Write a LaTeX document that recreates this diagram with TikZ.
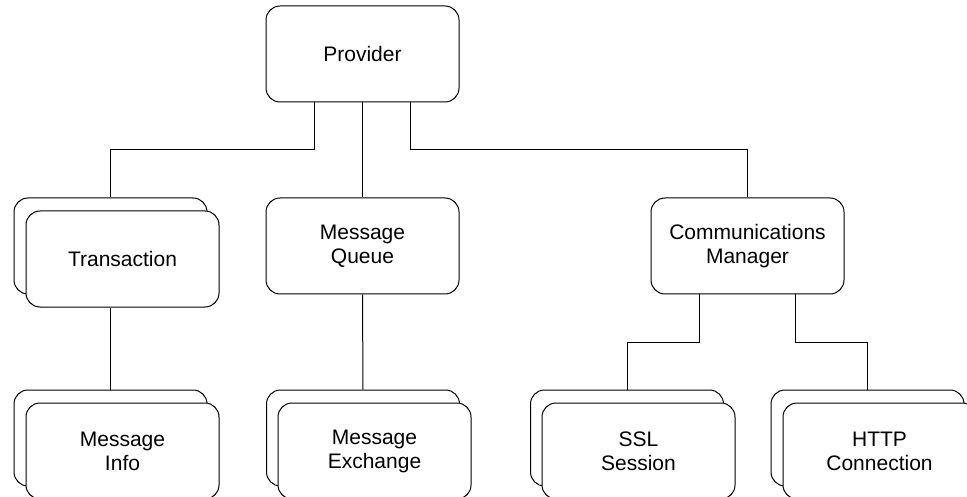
\documentclass[tikz,border=0pt]{standalone}
\usepackage{fontspec}
\setmainfont{Liberation Sans}
\begin{document}
\begin{tikzpicture}[x=1pt,y=-1pt,
  box/.style={draw=black, line width=1pt, fill=white, rounded corners=14pt,
    minimum width=193pt, minimum height=96pt, inner sep=0pt, align=center,
    font=\fontsize{21}{24}\selectfont},
  wire/.style={draw=black, line width=1pt}]
\useasboundingbox (0,0) rectangle (967,497);
\clip (0,0) rectangle (967,497);
% single boxes
\node[box] (prov) at (362.5,54) {Provider};
\node[box] (queue) at (362.5,246) {Message\\Queue};
\node[box] (comm) at (747.5,246) {Communications\\Manager};
% stacked boxes: back then front
\node[box] (transB) at (110.5,246) {};
\node[box] (trans) at (122.5,259) {Transaction};
\node[box] (infoB) at (110.5,438) {};
\node[box] (info) at (122.5,451) {Message\\Info};
\node[box] (exchB) at (363,438) {};
\node[box] (exch) at (374.5,451) {Message\\Exchange};
\node[box] (sslB) at (627,438) {};
\node[box] (ssl) at (638.5,451) {SSL\\Session};
\node[box] (httpB) at (867.5,438) {};
\node[box] (http) at (879.5,451) {HTTP\\Connection};
% routing levels
\coordinate (lvlA) at (0,150);
\coordinate (lvlB) at (0,342);
\coordinate (pL) at ([xshift=-48pt]prov.south);
\coordinate (pR) at ([xshift=48pt]prov.south);
\coordinate (cL) at ([xshift=-48pt]comm.south);
\coordinate (cR) at ([xshift=48pt]comm.south);
% connectors
\draw[wire] (pL) -- (pL |- lvlA) -| (transB.north);
\draw[wire] (prov.south) -- (queue.north);
\draw[wire] (pR) -- (pR |- lvlA) -| (comm.north);
\draw[wire] (transB.north |- trans.south) -- (infoB.north);
\draw[wire] (queue.south) -- (exchB.north);
\draw[wire] (cL) -- (cL |- lvlB) -| (sslB.north);
\draw[wire] (cR) -- (cR |- lvlB) -| (httpB.north);
\end{tikzpicture}
\end{document}
